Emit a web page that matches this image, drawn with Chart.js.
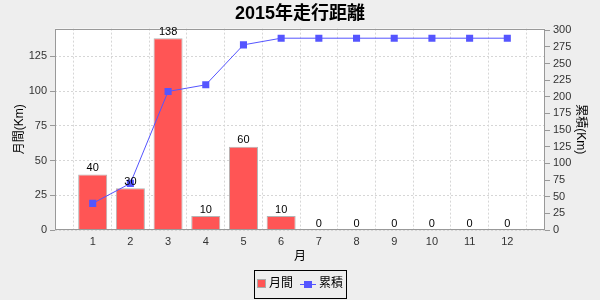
<!DOCTYPE html>
<html>
<head>
<meta charset="utf-8">
<script src="https://cdn.jsdelivr.net/npm/chart.js@4.4.1/dist/chart.umd.min.js"></script>
<style>
html,body{margin:0;padding:0;background:#eeeeee;}
#wrap{width:600px;height:300px;}
</style>
</head>
<body>
<div id="wrap"><canvas id="c" width="600" height="300"></canvas></div>
<script>
const chartTitle = '2015年走行距離';
const months = ['1','2','3','4','5','6','7','8','9','10','11','12'];
const monthly = [40, 30, 138, 10, 60, 10, 0, 0, 0, 0, 0, 0];
const cumulative = [40, 70, 208, 218, 278, 288, 288, 288, 288, 288, 288, 288];
const seriesNames = ['月間', '累積'];
const xTitle = '月';
const yLeftTitle = '月間(Km)';
const yRightTitle = '累積(Km)';

const FONT = "'Liberation Sans', 'Noto Sans CJK JP', sans-serif";
const RED = '#ff5555';
const BLUE = '#5555ff';

// padded with blank categories at both ends
const xLabels = [''].concat(months, ['']);
const barData = [null].concat(monthly, [null]);
const lineData = [null].concat(cumulative, [null]);

function makeIcon(kind) {
  const cv = document.createElement('canvas');
  cv.width = 22; cv.height = 10;
  const g = cv.getContext('2d');
  if (kind === 'bar') {
    g.fillStyle = RED;
    g.fillRect(13.5, 0.5, 8, 8);
    g.strokeStyle = '#aaaaaa';
    g.lineWidth = 1;
    g.strokeRect(13.5, 0.5, 8, 8);
  } else {
    g.strokeStyle = BLUE;
    g.lineWidth = 1;
    g.beginPath(); g.moveTo(6, 5.5); g.lineTo(22, 5.5); g.stroke();
    g.fillStyle = BLUE;
    g.fillRect(10, 2, 8, 7);
  }
  return cv;
}
const barIcon = makeIcon('bar');
const lineIcon = makeIcon('line');

const framePlugin = {
  id: 'frame',
  afterLayout(chart) {
    if (chart.legend) { chart.legend.left -= 10; }
  },
  beforeDraw(chart) {
    const {ctx, chartArea: a} = chart;
    ctx.save();
    ctx.fillStyle = '#eeeeee';
    ctx.fillRect(0, 0, chart.width, chart.height);
    ctx.fillStyle = '#ffffff';
    ctx.fillRect(a.left, a.top, a.right - a.left, a.bottom - a.top);
    ctx.restore();
  },
  afterDraw(chart) {
    const {ctx, chartArea: a} = chart;
    ctx.save();
    ctx.strokeStyle = '#999999';
    ctx.lineWidth = 1;
    ctx.strokeRect(Math.round(a.left) + 0.5, Math.round(a.top) + 0.5,
      Math.round(a.right - a.left) - 1, Math.round(a.bottom - a.top) - 1);
    // value labels over bars
    const meta = chart.getDatasetMeta(0);
    ctx.fillStyle = '#000000';
    ctx.font = '11px ' + FONT;
    ctx.textAlign = 'center';
    ctx.textBaseline = 'bottom';
    meta.data.forEach((el, i) => {
      const v = barData[i];
      if (v === null || v === undefined) return;
      ctx.fillText(String(v), el.x, el.y - 1);
    });
    // legend border
    const lg = chart.legend;
    if (lg && lg.legendHitBoxes && lg.legendHitBoxes.length) {
      let l = Infinity, r = -Infinity, t = Infinity, b = -Infinity;
      lg.legendHitBoxes.forEach(h => {
        l = Math.min(l, h.left); r = Math.max(r, h.left + h.width);
        t = Math.min(t, h.top); b = Math.max(b, h.top + h.height);
      });
      const cy = (t + b) / 2;
      ctx.strokeStyle = '#000000';
      ctx.strokeRect(Math.round(l + 7) + 0.5, Math.round(cy - 14) + 0.5,
        Math.round(r - l - 4), 28);
    }
    ctx.restore();
  }
};

function ticks25(scale) {
  const out = [];
  for (let v = 0; v <= scale.max + 1e-6; v += 25) out.push({ value: v });
  scale.ticks = out;
}

new Chart(document.getElementById('c'), {
  data: {
    labels: xLabels,
    datasets: [
      {
        type: 'bar',
        label: seriesNames[0],
        data: barData,
        yAxisID: 'y',
        backgroundColor: RED,
        borderColor: '#b4b4b4',
        borderWidth: 1,
        categoryPercentage: 1,
        barPercentage: 0.77,
        order: 2
      },
      {
        type: 'line',
        label: seriesNames[1],
        data: lineData,
        yAxisID: 'y1',
        borderColor: BLUE,
        backgroundColor: BLUE,
        borderWidth: 1,
        pointStyle: 'rect',
        pointRadius: 5,
        pointBorderWidth: 0,
        pointBackgroundColor: BLUE,
        fill: false,
        tension: 0,
        order: 1
      }
    ]
  },
  options: {
    responsive: false,
    animation: false,
    devicePixelRatio: 1,
    layout: { padding: { left: 0, right: 0, top: 0, bottom: 0 } },
    plugins: {
      title: {
        display: true,
        text: chartTitle,
        color: '#000000',
        font: { family: FONT, size: 18, weight: 'bold' },
        padding: { top: 3, bottom: 4 }
      },
      legend: {
        position: 'bottom',
        labels: {
          usePointStyle: true,
          pointStyleWidth: 16,
          boxHeight: 10,
          padding: 4,
          color: '#000000',
          font: { family: FONT, size: 12 },
          generateLabels(chart) {
            return chart.data.datasets.map((ds, i) => ({
              text: ds.label,
              pointStyle: i === 0 ? barIcon : lineIcon,
              fillStyle: 'transparent',
              strokeStyle: 'transparent',
              lineWidth: 0,
              fontColor: '#000000',
              datasetIndex: i,
              hidden: false
            }));
          }
        }
      },
      tooltip: { enabled: false }
    },
    scales: {
      x: {
        type: 'category',
        offset: false,
        afterFit(s) { s.height = 44; },
        grid: { color: '#d6d6d6', drawTicks: false, lineWidth: 1 },
        border: { display: false, dash: [2, 2] },
        ticks: { color: '#333333', font: { family: FONT, size: 11 }, padding: 5, maxRotation: 0, autoSkip: false },
        title: { display: true, text: xTitle, color: '#000000', font: { family: FONT, size: 12 }, padding: { top: 2, bottom: 10 } }
      },
      y: {
        type: 'linear',
        position: 'left',
        min: 0,
        max: 145,
        afterFit(s) { s.width = 55; },
        afterBuildTicks: ticks25,
        ticks: { stepSize: 25, color: '#333333', font: { family: FONT, size: 11 }, padding: 3 },
        grid: { color: '#d6d6d6', tickColor: '#999999', tickLength: 5, tickBorderDash: [], lineWidth: 1 },
        border: { display: false, dash: [2, 2] },
        title: { display: true, text: yLeftTitle, color: '#000000', font: { family: FONT, size: 12 }, padding: { top: 12, bottom: 0 } }
      },
      y1: {
        type: 'linear',
        position: 'right',
        min: 0,
        max: 302.4,
        afterFit(s) { s.width = 55; },
        afterBuildTicks: ticks25,
        ticks: { stepSize: 25, color: '#333333', font: { family: FONT, size: 11 }, padding: 3 },
        grid: { drawOnChartArea: false, color: '#999999', tickColor: '#999999', tickLength: 5 },
        border: { display: false },
        title: { display: true, text: yRightTitle, color: '#000000', font: { family: FONT, size: 12 }, padding: { top: 12, bottom: 0 } }
      }
    }
  },
  plugins: [framePlugin]
});
</script>
</body>
</html>
